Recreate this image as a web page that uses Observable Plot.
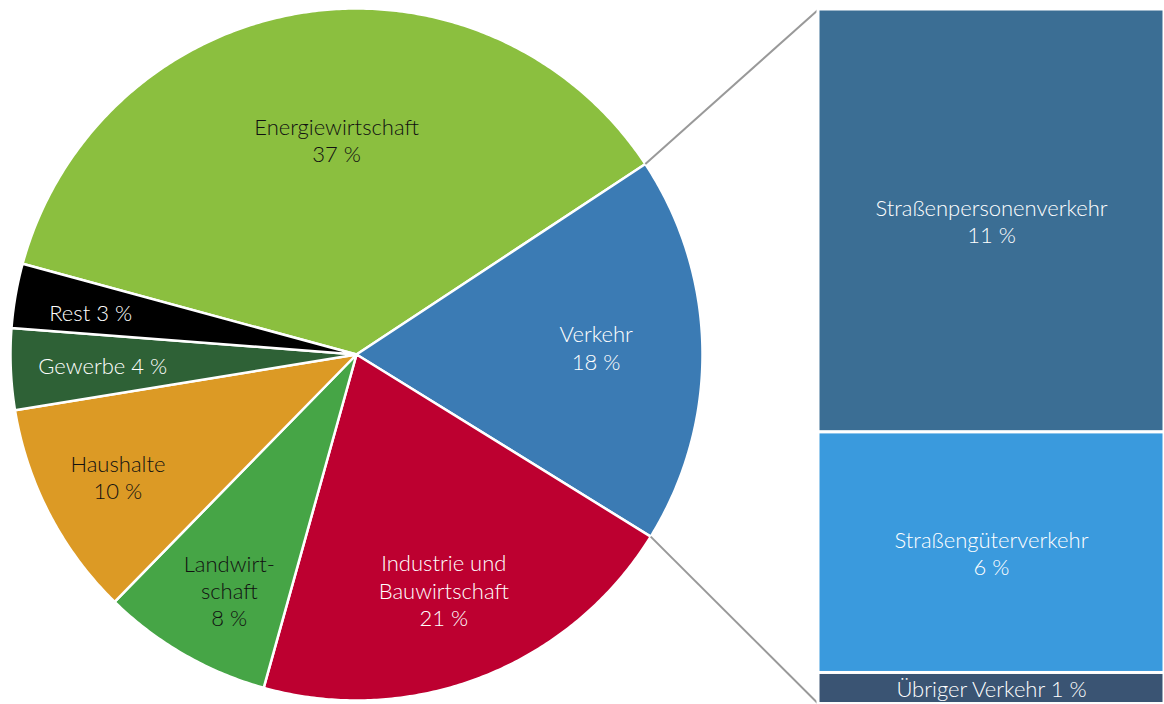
<!DOCTYPE html>
<html><head><meta charset="utf-8">
<script src="https://cdn.jsdelivr.net/npm/d3@7"></script>
<script src="https://cdn.jsdelivr.net/npm/@observablehq/plot@0.6"></script>
<style>html,body{margin:0;padding:0;background:#fff;} svg{display:block}</style>
</head><body><div id="chart"></div>
<script>
// ---- data (percent of emissions) ----
const sectors = ["Energiewirtschaft", "Verkehr", "Industrie und Bauwirtschaft", "Landwirtschaft", "Haushalte", "Gewerbe", "Rest"];
const shares = [36.5, 18.1, 20.5, 8.0, 10.1, 3.8, 3.0];
const sectorLabels = ["Energiewirtschaft\n37 %", "Verkehr\n18 %", "Industrie und\nBauwirtschaft\n21 %", "Landwirt-\nschaft\n8 %", "Haushalte\n10 %", "Gewerbe 4 %", "Rest 3 %"];
const transportParts = ["Straßenpersonenverkehr", "Straßengüterverkehr", "Übriger Verkehr"];
const transportShares = [10.9, 6.2, 0.8];
const transportLabels = ["Straßenpersonenverkehr\n11 %", "Straßengüterverkehr\n6 %", "Übriger Verkehr 1 %"];

// ---- styles ----
const sectorColors = ["#8bbf3f", "#3b7bb4", "#bd0030", "#46a546", "#dc9a25", "#2e6136", "#000000"];
const transportColors = ["#3b6e94", "#3a9add", "#3a5473"];
const darkInk = new Set(["Energiewirtschaft", "Landwirtschaft", "Haushalte"]);
// label placement: [fraction of radius, angle shift in degrees]
const labelAt = {
  "Energiewirtschaft": [0.623, 3.8], "Verkehr": [0.693, -0.9], "Industrie und Bauwirtschaft": [0.726, 1.0],
  "Landwirtschaft": [0.774, -1.6], "Haushalte": [0.775, 0.3], "Gewerbe": [0.734, 0], "Rest": [0.778, -0.8]
};
const FONT = {fontSize: 22, fontWeight: 300, lineHeight: 1.24};

// ---- layout ----
const W = 1164, H = 704;
const CX = 356, CY = 354, R = 346;          // pie centre / radius in px
const START = -74.8;                        // start angle (deg, clockwise from 12 o'clock)
const xDom = [-CX / R, (W - CX) / R], yDom = [-(H - CY) / R, CY / R];
const BAR_X0 = (818 - CX) / R, BAR_X1 = xDom[1], BAR_TOP = (CY - 9) / R, PER_PCT = 38.8 / R;

const rad = d => d * Math.PI / 180;
const polar = (a, r) => [r * Math.sin(rad(a)), r * Math.cos(rad(a))];

let acc = START;
const slices = sectors.map((name, i) => {
  const a0 = acc, a1 = acc + shares[i] * 3.6; acc = a1;
  const [f, shift] = labelAt[name];
  const [lx, ly] = polar((a0 + a1) / 2 + shift, f);
  return {name, a0, a1, label: sectorLabels[i], lx, ly};
});
const slicePts = slices.flatMap(s => {
  const n = Math.max(2, Math.ceil((s.a1 - s.a0) / 0.5));
  const pts = [{name: s.name, x: 0, y: 0}];
  for (let k = 0; k <= n; k++) {
    const [x, y] = polar(s.a0 + (s.a1 - s.a0) * k / n, 1);
    pts.push({name: s.name, x, y});
  }
  return pts;
});

let cum = 0;
const bars = transportParts.map((name, i) => {
  const top = BAR_TOP - cum * PER_PCT; cum += transportShares[i];
  const bottom = BAR_TOP - cum * PER_PCT;
  return {name, x1: BAR_X0, x2: BAR_X1, y1: bottom, y2: top, cx: (BAR_X0 + BAR_X1) / 2, cy: (top + bottom) / 2, label: transportLabels[i]};
});

const verkehr = slices[1];
const links = [
  {p: polar(verkehr.a0, 1), q: [BAR_X0, bars[0].y2]},
  {p: polar(verkehr.a1, 1), q: [BAR_X0, bars[bars.length - 1].y1]}
].map(d => ({x1: d.p[0], y1: d.p[1], x2: d.q[0], y2: d.q[1]}));

const chart = Plot.plot({
  width: W, height: H, margin: 0,
  style: {fontFamily: "Lato, sans-serif", background: "#fff"},
  x: {domain: xDom, axis: null},
  y: {domain: yDom, axis: null},
  color: {type: "ordinal", domain: sectors.concat(transportParts), range: sectorColors.concat(transportColors)},
  marks: [
    Plot.line(slicePts, {x: "x", y: "y", z: "name", fill: "name", stroke: "white", strokeWidth: 2.5, curve: "linear-closed", strokeLinejoin: "round"}),
    Plot.link(links, {x1: "x1", y1: "y1", x2: "x2", y2: "y2", stroke: "#999", strokeWidth: 2}),
    Plot.rect(bars, {x1: "x1", x2: "x2", y1: "y1", y2: "y2", fill: "name", stroke: "white", strokeWidth: 3}),
    Plot.text(slices.filter(d => darkInk.has(d.name)), {x: "lx", y: "ly", text: "label", fill: "#111", ...FONT}),
    Plot.text(slices.filter(d => !darkInk.has(d.name)), {x: "lx", y: "ly", text: "label", fill: "white", ...FONT}),
    Plot.text(bars, {x: "cx", y: "cy", text: "label", fill: "white", ...FONT})
  ]
});
document.getElementById("chart").appendChild(chart);
</script>
</body></html>
